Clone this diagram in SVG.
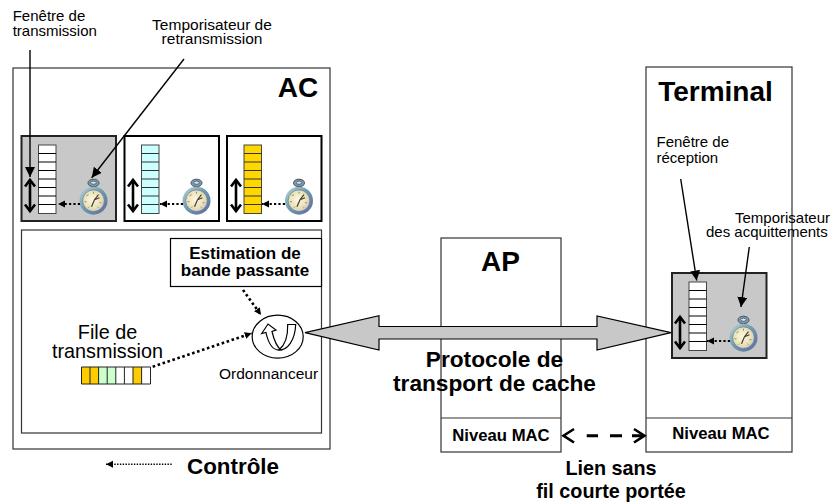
<svg xmlns="http://www.w3.org/2000/svg" xmlns:xlink="http://www.w3.org/1999/xlink" width="831" height="502" viewBox="0 0 831 502">
<style>
text{font-family:"Liberation Sans",Arial,sans-serif;fill:#000;text-anchor:middle}
.b{font-weight:bold}
.s{text-anchor:start}
.box{fill:#fff;stroke:#333;stroke-width:1.2}
.thin{fill:none;stroke:#000;stroke-width:1.4}
.dot{fill:none;stroke:#000;stroke-width:2.2;stroke-dasharray:2.2 2.2}
.dot2{fill:none;stroke:#000;stroke-width:2.6;stroke-dasharray:2.6 2.6}
</style>
<defs>
<marker id="ah" markerUnits="userSpaceOnUse" markerWidth="12" markerHeight="12" refX="10" refY="5" orient="auto"><path d="M0 0L10 5L0 10Z" fill="#000"/></marker>
<marker id="as" markerUnits="userSpaceOnUse" markerWidth="8" markerHeight="8" refX="7" refY="3.500" orient="auto"><path d="M0 0L7 3.500L0 7Z" fill="#000"/></marker>
<radialGradient id="face" cx="0.45" cy="0.45" r="0.65"><stop offset="0" stop-color="#fdf8e2"/><stop offset="0.6" stop-color="#e9e2b8"/><stop offset="0.85" stop-color="#d8c8c8"/><stop offset="1" stop-color="#b8b0d0"/></radialGradient>
<linearGradient id="ring" x1="0" y1="0" x2="1" y2="1"><stop offset="0" stop-color="#bcd8d8"/><stop offset="0.45" stop-color="#6f9cb4"/><stop offset="1" stop-color="#5a6a98"/></linearGradient>
<g id="clock">
<path d="M-5.500 -18a5.500 3.500 0 0 1 11 0v0.500a5.500 3.500 0 0 1 -11 0Z" fill="#7f9aa8" stroke="#3f5366" stroke-width="1"/>
<ellipse cx="0" cy="-18" rx="2.800" ry="1.600" fill="#d9e4ea" stroke="#3f5366" stroke-width="0.800"/>
<circle r="14" fill="url(#ring)"/>
<circle r="10.800" fill="url(#face)" stroke="#5d7284" stroke-width="0.600"/>
<path d="M-2 6L1 -1L5 -6M1 -1L6 -3" stroke="#4a3a30" stroke-width="1.200" fill="none"/>
<path d="M-7 -5L-5 -6M-9 1L-7 1M-5 7L-4 6M5 7L4 6M8 2L6 2M0 -9V-7" stroke="#8a9060" stroke-width="1" fill="none"/>
</g>
<g id="updown" fill="none" stroke="#000" stroke-width="2.600"><path d="M0 -15V15"/><path d="M-5 -9L0 -15.500L5 -9M-5 9L0 15.500L5 9"/></g>
</defs>

<g id="node-ac">
<rect class="box" x="13" y="68" width="317" height="381"/>
<text class="b" x="298" y="97" font-size="28">AC</text>
</g>
<g id="node-win1">
<rect x="21.500" y="136" width="94.500" height="85" fill="#c8c8c8" stroke="#222" stroke-width="2"/>
<rect x="38.500" y="145" width="17.500" height="68.500" fill="#fff" stroke="#444"/>
<path d="M38.500 153.500H56M38.500 162H56M38.500 170.500H56M38.500 179H56M38.500 187.500H56M38.500 196H56M38.500 204.500H56" stroke="#000"/>
<use xlink:href="#updown" href="#updown" x="30" y="195.500"/>
<use xlink:href="#clock" href="#clock" x="93.500" y="200.700"/>
<path class="dot" d="M80 204H58" marker-end="url(#as)"/>
</g>
<g id="node-win2">
<rect x="124.500" y="136" width="94.500" height="85" fill="#fff" stroke="#000" stroke-width="2"/>
<rect x="141.500" y="145" width="17.500" height="68.500" fill="#ccffff" stroke="#444"/>
<path d="M141.500 153.500H159M141.500 162H159M141.500 170.500H159M141.500 179H159M141.500 187.500H159M141.500 196H159M141.500 204.500H159" stroke="#333"/>
<use xlink:href="#updown" href="#updown" x="133" y="195.500"/>
<use xlink:href="#clock" href="#clock" x="196.500" y="200.700"/>
<path class="dot" d="M183 204H160" marker-end="url(#as)"/>
</g>
<g id="node-win3">
<rect x="227" y="136" width="94.500" height="85" fill="#fff" stroke="#000" stroke-width="2"/>
<rect x="244" y="145" width="17.500" height="68.500" fill="#ffd700" stroke="#444"/>
<path d="M244 153.500H261.500M244 162H261.500M244 170.500H261.500M244 179H261.500M244 187.500H261.500M244 196H261.500M244 204.500H261.500" stroke="#333"/>
<use xlink:href="#updown" href="#updown" x="236" y="195.500"/>
<use xlink:href="#clock" href="#clock" x="299" y="200.700"/>
<path class="dot" d="M285 204H262" marker-end="url(#as)"/>
</g>
<g id="node-inner">
<rect x="21.500" y="230" width="300" height="203" fill="#fff" stroke="#333" stroke-width="1.200"/>
</g>
<g id="node-estimation">
<rect x="170.500" y="238.500" width="151" height="48" fill="#fff" stroke="#000" stroke-width="1.200"/>
<text class="b" x="245" y="259" font-size="17">Estimation de</text>
<text class="b" x="245" y="276" font-size="17">bande passante</text>
</g>
<g id="node-file">
<text x="107.500" y="339" font-size="19.800">File de</text>
<text x="107.500" y="357.500" font-size="19.800">transmission</text>
<rect x="81.500" y="367" width="69" height="17" fill="#fff"/>
<rect x="81.500" y="367" width="17.200" height="17" fill="#ffcc00"/>
<rect x="98.700" y="367" width="17.200" height="17" fill="#ccffcc"/>
<rect x="133" y="367" width="8.600" height="17" fill="#ffcc00"/>
<path d="M81.500 367H150.500V384H81.500ZM90 367V384M98.600 367V384M107.200 367V384M115.800 367V384M124.400 367V384M133 367V384M141.600 367V384" fill="none" stroke="#222"/>
</g>
<g id="node-scheduler">
<ellipse cx="277.700" cy="336.700" rx="25.500" ry="21.500" fill="#fff" stroke="#000" stroke-width="1.200"/>
<path d="M279 350C272 350 268 342 266 332.500L261.700 333.500L268 324L276 330L272 331.500C274 340 276 346 281 350Z" fill="#fff" stroke="#000" stroke-width="1.200"/>
<path d="M295.700 324.500H287.700C288 336 285 345 279 350C288 350 295 340 295.700 324.500Z" fill="#fff" stroke="#000" stroke-width="1.200"/>
<text x="268.500" y="379" font-size="15.500">Ordonnanceur</text>
</g>
<g id="node-ap">
<rect class="box" x="441" y="238" width="120" height="214"/>
<path d="M441 418H561" stroke="#333" stroke-width="1.200"/>
<text class="b" x="500.500" y="270.500" font-size="28">AP</text>
<text class="b" x="501" y="440.500" font-size="16.700">Niveau MAC</text>
</g>
<g id="node-terminal">
<rect class="box" x="646" y="67" width="146" height="385"/>
<path d="M646 418H792" stroke="#333" stroke-width="1.200"/>
<text class="b" x="715.500" y="100.500" font-size="28">Terminal</text>
<text class="b" x="721" y="439" font-size="16.700">Niveau MAC</text>
<text class="s" x="656.500" y="146.500" font-size="15">Fenêtre de</text>
<text class="s" x="656.500" y="162.500" font-size="15">réception</text>
</g>
<g id="node-recv">
<rect x="672" y="273" width="94.500" height="85" fill="#c8c8c8" stroke="#222" stroke-width="2"/>
<rect x="689" y="282" width="17.500" height="68.500" fill="#fff" stroke="#444"/>
<path d="M689 290.500H706.500M689 299H706.500M689 307.500H706.500M689 316H706.500M689 324.500H706.500M689 333H706.500M689 341.500H706.500" stroke="#000"/>
<use xlink:href="#updown" href="#updown" x="680" y="332.500"/>
<use xlink:href="#clock" href="#clock" x="743.500" y="337.700"/>
<path class="dot" d="M730 341H707" marker-end="url(#as)"/>
</g>
<g id="connectors">
<path d="M305 332.700L379 315.700V326.500H597V316L671 332.700L597 350V339H379V350Z" fill="#c8c8c8" stroke="#000" stroke-width="1.200"/>
<path class="thin" d="M30 50V177" marker-end="url(#ah)"/>
<path class="thin" d="M184 59L91.700 177.700" marker-end="url(#ah)"/>
<path class="thin" d="M680.700 179L696.700 280.500" marker-end="url(#ah)"/>
<path class="thin" d="M749.300 247L741 307" marker-end="url(#ah)"/>
<path class="dot2" d="M243 290L261 315" marker-end="url(#as)"/>
<path class="dot2" d="M152.700 366.700L251.700 333.300" marker-end="url(#as)"/>
<path d="M586.700 435.700H598M610 435.700H622M632 435.700H643" fill="none" stroke="#000" stroke-width="3"/>
<path d="M574 429L563.500 435.700L574 442.500M634 429L644.500 435.700L634 442.500" fill="none" stroke="#000" stroke-width="2.600"/>
<path d="M171.700 464.300H106" fill="none" stroke="#000" stroke-width="1.400" stroke-dasharray="1.400 1.400" marker-end="url(#as)"/>
</g>
<g id="labels">
<text class="s" x="12.700" y="21" font-size="15">Fenêtre de</text>
<text class="s" x="12.700" y="35.500" font-size="15">transmission</text>
<text x="212" y="30" font-size="15.500">Temporisateur de</text>
<text x="212" y="43.500" font-size="15.500">retransmission</text>
<text class="s" x="735" y="223" font-size="15">Temporisateur</text>
<text class="s" x="706" y="236.700" font-size="15">des acquittements</text>
<text class="b" x="494.500" y="366.700" font-size="22.700">Protocole de</text>
<text class="b" x="494.500" y="391" font-size="22.700">transport de cache</text>
<text class="b" x="233" y="474" font-size="22.400">Contrôle</text>
<text class="b" x="611" y="475" font-size="19.800">Lien sans</text>
<text class="b" x="611" y="497.500" font-size="19.800">fil courte portée</text>
</g>
</svg>
